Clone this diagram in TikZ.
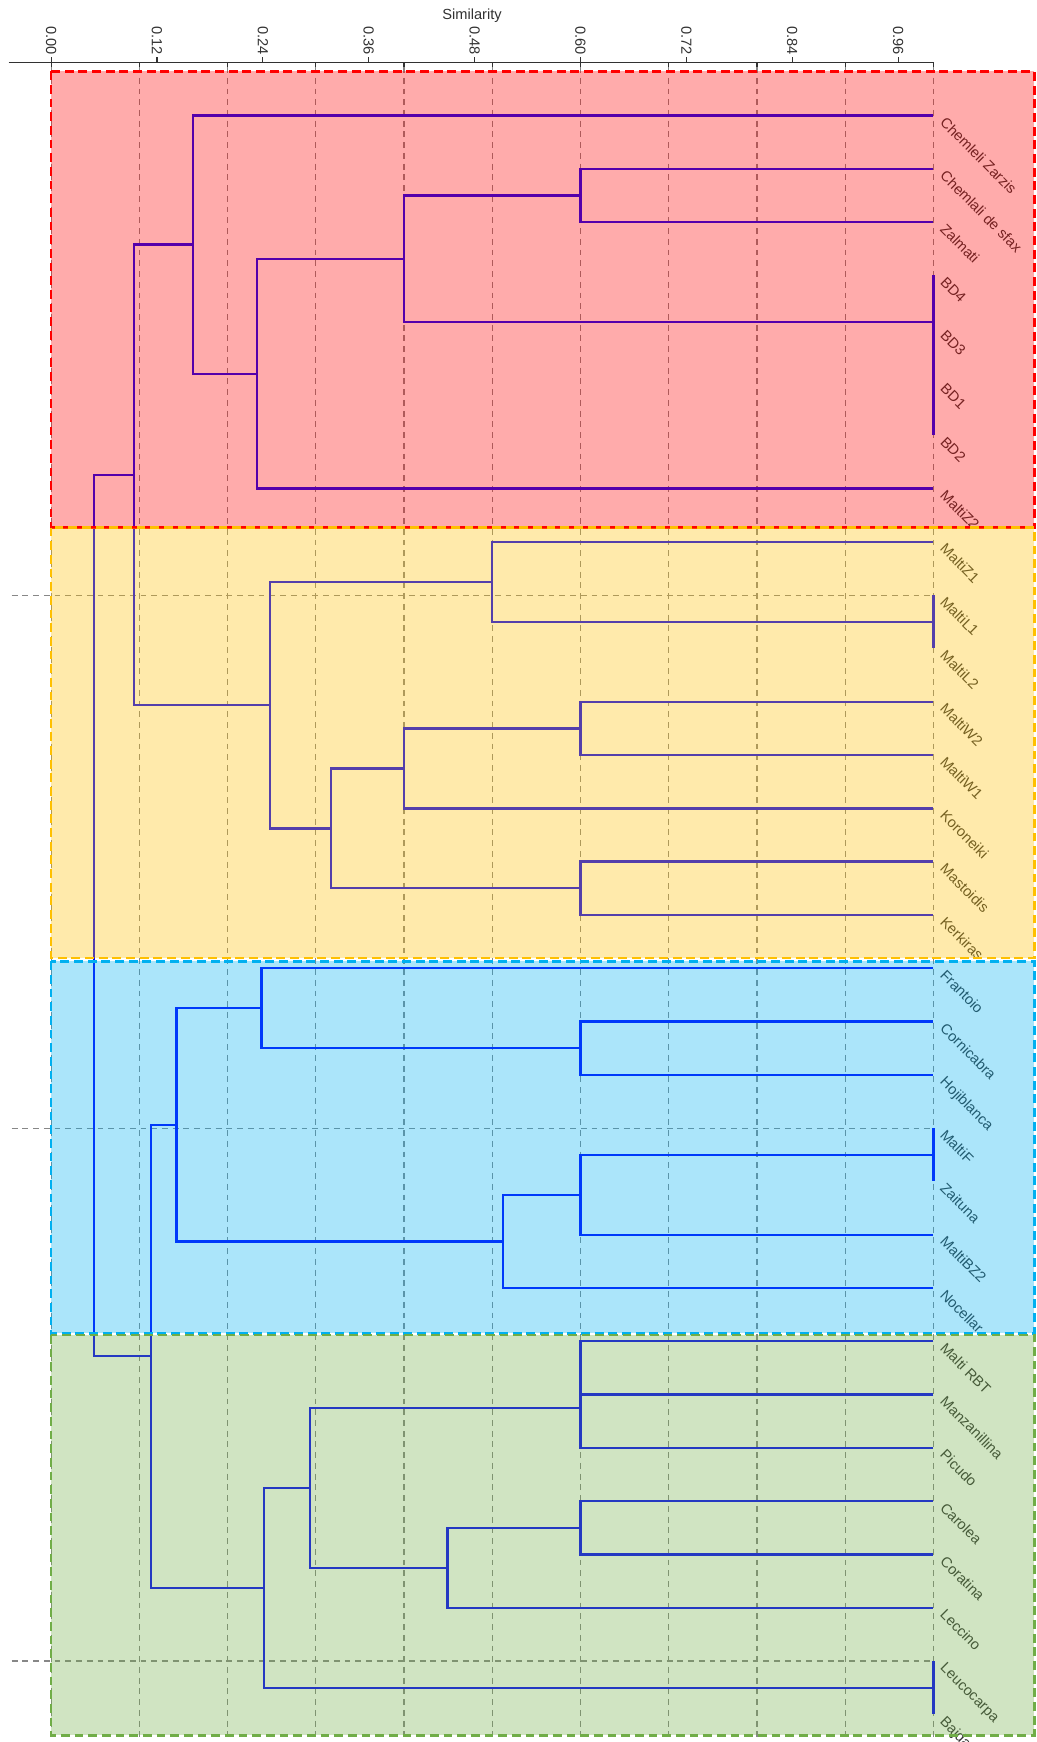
\documentclass[tikz,border=0pt]{standalone}
\usepackage{fontspec}
\setmainfont{Liberation Sans}
\usepackage{xcolor}
\usepackage{tikz}
\usetikzlibrary{positioning}

\definecolor{treeblue}{RGB}{0,0,255}
\definecolor{labelgrey}{RGB}{50,50,50}
\definecolor{gridgrey}{RGB}{135,135,135}
\definecolor{grpred}{RGB}{255,0,0}
\definecolor{grpyellow}{RGB}{255,192,0}
\definecolor{grpblue}{RGB}{0,176,240}
\definecolor{grpgreen}{RGB}{112,173,71}

\begin{document}
\begin{tikzpicture}[
    x=15.884cm, y=-0.9594cm,
    node distance=0.9594cm,
    branch/.style={draw=treeblue, line width=1.2pt},
    leaf/.style={xshift=0.24cm, rotate=-45, anchor=north west, inner sep=0pt, font=\fontsize{7.5}{9}\selectfont, text=labelgrey},
    gridline/.style={draw=gridgrey, line width=0.6pt, dash pattern=on 3pt off 2.5pt},
    group/.style={line width=1.4pt, dash pattern=on 4.5pt off 2.5pt, fill opacity=0.33},
    ticklabel/.style={rotate=-90, anchor=east, inner sep=0pt, font=\fontsize{7.5}{9}\selectfont, text=labelgrey}
]
\useasboundingbox (-0.0579,-1.168) rectangle (1.11685,31.519);

% Axis
\draw[line width=0.7pt, labelgrey] (-0.048,0) -- (1,0);
\draw[line width=0.6pt, labelgrey] (0,0) -- (0,-0.09) (0.12,0) -- (0.12,-0.09) (0.24,0) -- (0.24,-0.09)
    (0.36,0) -- (0.36,-0.09) (0.48,0) -- (0.48,-0.09) (0.60,0) -- (0.60,-0.09)
    (0.72,0) -- (0.72,-0.09) (0.84,0) -- (0.84,-0.09) (0.96,0) -- (0.96,-0.09);
\draw[line width=0.6pt, labelgrey] (0,0) -- (0,0.09) (0.1,0) -- (0.1,0.09) (0.2,0) -- (0.2,0.09)
    (0.3,0) -- (0.3,0.09) (0.4,0) -- (0.4,0.09) (0.5,0) -- (0.5,0.09) (0.6,0) -- (0.6,0.09)
    (0.7,0) -- (0.7,0.09) (0.8,0) -- (0.8,0.09) (0.9,0) -- (0.9,0.09) (1,0) -- (1,0.09);
\node[ticklabel] (t000) at (0,-0.13) {0.00};
\node[ticklabel] (t012) at (0.12,-0.13) {0.12};
\node[ticklabel] (t024) at (0.24,-0.13) {0.24};
\node[ticklabel] (t036) at (0.36,-0.13) {0.36};
\node[ticklabel] (t048) at (0.48,-0.13) {0.48};
\node[ticklabel] (t060) at (0.60,-0.13) {0.60};
\node[ticklabel] (t072) at (0.72,-0.13) {0.72};
\node[ticklabel] (t084) at (0.84,-0.13) {0.84};
\node[ticklabel] (t096) at (0.96,-0.13) {0.96};
\node[font=\fontsize{7.5}{9}\selectfont, text=labelgrey] (title) at (0.477,-0.875) {Similarity};

% Grid
\draw[gridline] (0,0.09) -- (0,31.519) (0.1,0.09) -- (0.1,31.519) (0.2,0.09) -- (0.2,31.519)
    (0.3,0.09) -- (0.3,31.519) (0.4,0.09) -- (0.4,31.519) (0.5,0.09) -- (0.5,31.519)
    (0.6,0.09) -- (0.6,31.519) (0.7,0.09) -- (0.7,31.519) (0.8,0.09) -- (0.8,31.519)
    (0.9,0.09) -- (0.9,31.519) (1,0.09) -- (1,31.519);
\draw[gridline] (-0.0447,10) -- (1,10) (-0.0447,20) -- (1,20) (-0.0447,30) -- (1,30);

% Leaves
\coordinate (cz) at (1,1);
\coordinate[below=of cz] (cs);
\coordinate[below=of cs] (za);
\coordinate[below=of za] (bd4);
\coordinate[below=of bd4] (bd3);
\coordinate[below=of bd3] (bd1);
\coordinate[below=of bd1] (bd2);
\coordinate[below=of bd2] (mz2);
\coordinate[below=of mz2] (mz1);
\coordinate[below=of mz1] (ml1);
\coordinate[below=of ml1] (ml2);
\coordinate[below=of ml2] (mw2);
\coordinate[below=of mw2] (mw1);
\coordinate[below=of mw1] (kor);
\coordinate[below=of kor] (mas);
\coordinate[below=of mas] (ker);
\coordinate[below=of ker] (fra);
\coordinate[below=of fra] (cor);
\coordinate[below=of cor] (hoj);
\coordinate[below=of hoj] (mf);
\coordinate[below=of mf] (zai);
\coordinate[below=of zai] (mbz);
\coordinate[below=of mbz] (noc);
\coordinate[below=of noc] (rbt);
\coordinate[below=of rbt] (man);
\coordinate[below=of man] (pic);
\coordinate[below=of pic] (car);
\coordinate[below=of car] (crt);
\coordinate[below=of crt] (lec);
\coordinate[below=of lec] (leu);
\coordinate[below=of leu] (baj);

\node[leaf] (lcz) at (cz) {Chemleli Zarzis};
\node[leaf] (lcs) at (cs) {Chemlali de sfax};
\node[leaf] (lza) at (za) {Zalmati};
\node[leaf] (lbd4) at (bd4) {BD4};
\node[leaf] (lbd3) at (bd3) {BD3};
\node[leaf] (lbd1) at (bd1) {BD1};
\node[leaf] (lbd2) at (bd2) {BD2};
\node[leaf] (lmz2) at (mz2) {MaltiZ2};
\node[leaf] (lmz1) at (mz1) {MaltiZ1};
\node[leaf] (lml1) at (ml1) {MaltiL1};
\node[leaf] (lml2) at (ml2) {MaltiL2};
\node[leaf] (lmw2) at (mw2) {MaltiW2};
\node[leaf] (lmw1) at (mw1) {MaltiW1};
\node[leaf] (lkor) at (kor) {Koroneiki};
\node[leaf] (lmas) at (mas) {Mastoidis};
\node[leaf] (lker) at (ker) {Kerkiras};
\node[leaf] (lfra) at (fra) {Frantoio};
\node[leaf] (lcor) at (cor) {Cornicabra};
\node[leaf] (lhoj) at (hoj) {Hojiblanca};
\node[leaf] (lmf) at (mf) {MaltiF};
\node[leaf] (lzai) at (zai) {Zaituna};
\node[leaf] (lmbz) at (mbz) {MaltiBZ2};
\node[leaf] (lnoc) at (noc) {Nocellar};
\node[leaf] (lrbt) at (rbt) {Malti RBT};
\node[leaf] (lman) at (man) {Manzanillina};
\node[leaf] (lpic) at (pic) {Picudo};
\node[leaf] (lcar) at (car) {Carolea};
\node[leaf] (lcrt) at (crt) {Coratina};
\node[leaf] (llec) at (lec) {Leccino};
\node[leaf] (lleu) at (leu) {Leucocarpa};
\node[leaf] (lbaj) at (baj) {Bajda};

% Joins
\coordinate (bd) at (1,4.875);
\coordinate (csza) at (0.60,2.5);
\coordinate (csbd) at (0.40,3.6875);
\coordinate (csmz) at (0.2337,5.8438);
\coordinate (red) at (0.1612,3.4219);
\coordinate (ml) at (1,10.5);
\coordinate (mzml) at (0.50,9.75);
\coordinate (mw) at (0.60,12.5);
\coordinate (mwkor) at (0.40,13.25);
\coordinate (mask) at (0.60,15.5);
\coordinate (kormas) at (0.317,14.375);
\coordinate (yellow) at (0.248,12.0625);
\coordinate (redyel) at (0.0943,7.7422);
\coordinate (corh) at (0.60,18.5);
\coordinate (frac) at (0.2386,17.75);
\coordinate (mfz) at (1,20.5);
\coordinate (mfbz) at (0.60,21.25);
\coordinate (mfnoc) at (0.5125,22.125);
\coordinate (blue) at (0.142,19.9375);
\coordinate (rbtp) at (0.60,25.25);
\coordinate (carc) at (0.60,27.5);
\coordinate (carl) at (0.4494,28.25);
\coordinate (picl) at (0.2934,26.75);
\coordinate (leub) at (1,30.5);
\coordinate (green) at (0.2413,28.625);
\coordinate (bluegr) at (0.1132,24.2813);
\coordinate (root) at (0.049,16.0117);

% Branches
\draw[branch] (bd4) -- (bd2);
\draw[branch] (ml1) -- (ml2);
\draw[branch] (mf) -- (zai);
\draw[branch] (leu) -- (baj);
\draw[branch] (cs) -| (csza) |- (za);
\draw[branch] (csza) -| (csbd) |- (bd);
\draw[branch] (csbd) -| (csmz) |- (mz2);
\draw[branch] (cz) -| (red) |- (csmz);
\draw[branch] (mz1) -| (mzml) |- (ml);
\draw[branch] (mw2) -| (mw) |- (mw1);
\draw[branch] (mw) -| (mwkor) |- (kor);
\draw[branch] (mas) -| (mask) |- (ker);
\draw[branch] (mwkor) -| (kormas) |- (mask);
\draw[branch] (mzml) -| (yellow) |- (kormas);
\draw[branch] (red) -| (redyel) |- (yellow);
\draw[branch] (cor) -| (corh) |- (hoj);
\draw[branch] (fra) -| (frac) |- (corh);
\draw[branch] (mfz) -| (mfbz) |- (mbz);
\draw[branch] (mfbz) -| (mfnoc) |- (noc);
\draw[branch] (frac) -| (blue) |- (mfnoc);
\draw[branch] (rbt) -| (rbtp) |- (pic);
\draw[branch] (man) -- (rbtp |- man);
\draw[branch] (car) -| (carc) |- (crt);
\draw[branch] (carc) -| (carl) |- (lec);
\draw[branch] (rbtp) -| (picl) |- (carl);
\draw[branch] (picl) -| (green) |- (leub);
\draw[branch] (blue) -| (bluegr) |- (green);
\draw[branch] (redyel) -| (root) |- (bluegr);

% Groups
\filldraw[group, draw=grpred, fill=grpred] (0,0.17) rectangle (1.1143,8.73);
\filldraw[group, draw=grpyellow, fill=grpyellow] (0,8.73) rectangle (1.1143,16.81);
\filldraw[group, draw=grpblue, fill=grpblue] (0,16.87) rectangle (1.1143,23.85);
\filldraw[group, draw=grpgreen, fill=grpgreen] (0,23.88) rectangle (1.1143,31.39);

\end{tikzpicture}
\end{document}
